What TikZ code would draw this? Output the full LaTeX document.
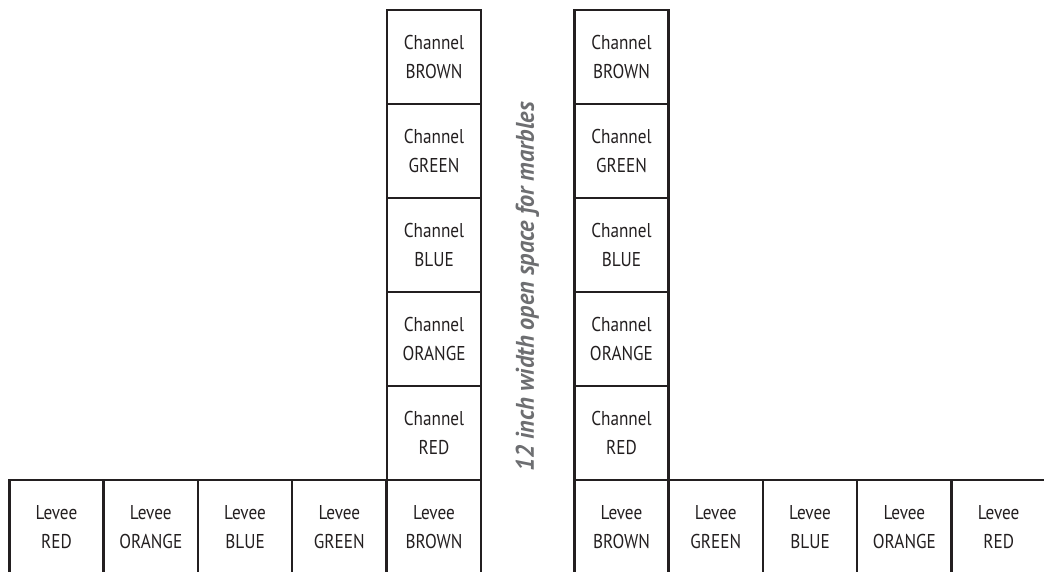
\documentclass[tikz,border=0pt]{standalone}
\usepackage{fontspec}
\setmainfont[FakeStretch=0.86]{PT Sans}
\newfontfamily\labelfont[FakeStretch=0.95]{PT Sans}
\begin{document}
\definecolor{ink}{HTML}{231F20}
\definecolor{note}{HTML}{6D6E71}
\begin{tikzpicture}[x=1pt,y=-1pt,
  cell/.style={draw=ink, line width=2.4pt, rectangle, inner sep=0pt,
    minimum width=94.3pt, minimum height=94pt, align=center,
    text=ink, font=\fontsize{20}{29}\selectfont},
  notelabel/.style={rotate=90, text=note, inner sep=0pt,
    font=\labelfont\bfseries\itshape\fontsize{25.5}{30}\selectfont}]
\useasboundingbox (0,0) rectangle (1044,571);
\clip (0,0) rectangle (1044,571);
% left channel column (x 386.9 - 481.2)
\node[cell] (lc1) at (434.05,57)  {Channel\\BROWN};
\node[cell] (lc2) at (434.05,151) {Channel\\GREEN};
\node[cell] (lc3) at (434.05,245) {Channel\\BLUE};
\node[cell] (lc4) at (434.05,339) {Channel\\ORANGE};
\node[cell] (lc5) at (434.05,433) {Channel\\RED};
% right channel column (x 574.3 - 668.6)
\node[cell] (rc1) at (621.45,57)  {Channel\\BROWN};
\node[cell] (rc2) at (621.45,151) {Channel\\GREEN};
\node[cell] (rc3) at (621.45,245) {Channel\\BLUE};
\node[cell] (rc4) at (621.45,339) {Channel\\ORANGE};
\node[cell] (rc5) at (621.45,433) {Channel\\RED};
% left levee row
\node[cell] (ll1) at (56.45,527)  {Levee\\RED};
\node[cell] (ll2) at (150.75,527) {Levee\\ORANGE};
\node[cell] (ll3) at (245.05,527) {Levee\\BLUE};
\node[cell] (ll4) at (339.35,527) {Levee\\GREEN};
\node[cell] (ll5) at (434.05,527) {Levee\\BROWN};
% right levee row
\node[cell] (rl1) at (621.45,527) {Levee\\BROWN};
\node[cell] (rl2) at (715.75,527) {Levee\\GREEN};
\node[cell] (rl3) at (810.05,527) {Levee\\BLUE};
\node[cell] (rl4) at (904.35,527) {Levee\\ORANGE};
\node[cell] (rl5) at (998.65,527) {Levee\\RED};
% gap label
\node[notelabel] (gap) at (527.5,287) {12 inch width open space for marbles};
\end{tikzpicture}
\end{document}
